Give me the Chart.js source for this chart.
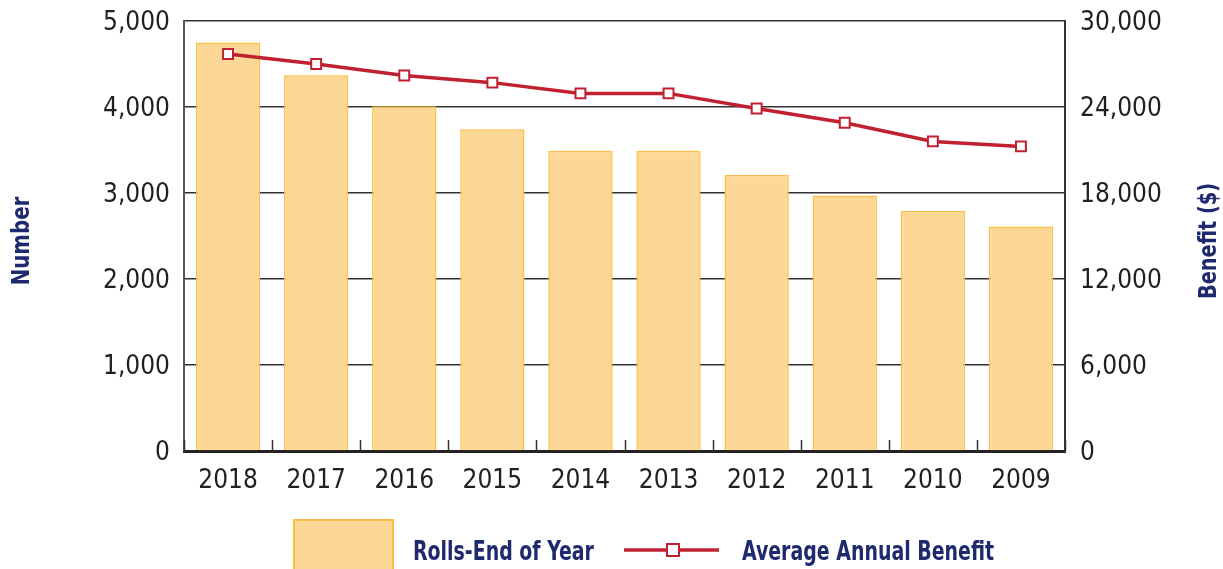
<!DOCTYPE html>
<html>
<head>
<meta charset="utf-8">
<script src="https://cdn.jsdelivr.net/npm/chart.js@4"></script>
<style>
  body { margin: 0; background: #fff; }
  #wrap { width: 1223px; height: 569px; }
</style>
</head>
<body>
<div id="wrap"><canvas id="chart" width="1223" height="569"></canvas></div>
<script>
const years = ['2018', '2017', '2016', '2015', '2014', '2013', '2012', '2011', '2010', '2009']
const rolls = [4750, 4370, 4010, 3740, 3490, 3490, 3210, 2970, 2790, 2610]
const avgBenefit = [27700, 27000, 26200, 25700, 24950, 24950, 23900, 22900, 21600, 21250]

const numberMax = 5000
const numberStep = 1000
const benefitMax = 30000
const benefitStep = 6000

const FONT = "'Liberation Sans Narrow', 'DejaVu Sans Condensed', 'Liberation Sans', sans-serif"
const navy = '#1f2a6e'
const ink = '#231f20'
const barFill = '#fdd795'
const barEdge = '#fbbf45'
const lineRed = '#c0202f'

// squeeze a bold label horizontally so it reads like a condensed face
function narrowText(ctx, text, x, y, squeeze, angle) {
  ctx.save()
  ctx.translate(x, y)
  if (angle) ctx.rotate(angle)
  ctx.scale(squeeze, 1)
  ctx.fillText(text, 0, 0)
  ctx.restore()
}

// titles, legend and the little upward ticks along the baseline
const extras = {
  id: 'extras',
  beforeDatasetsDraw(chart) {
    const { ctx, chartArea } = chart
    const x = chart.scales.x
    const step = x.width / years.length
    ctx.save()
    ctx.strokeStyle = '#333'
    ctx.lineWidth = 1.5
    for (let i = 0; i <= years.length; i++) {
      const px = Math.round(x.left + i * step) + 0.5
      ctx.beginPath()
      ctx.moveTo(px, chartArea.bottom - 11)
      ctx.lineTo(px, chartArea.bottom)
      ctx.stroke()
    }
    ctx.restore()
  },
  afterDraw(chart) {
    const { ctx } = chart
    ctx.save()
    ctx.fillStyle = navy
    ctx.font = `bold 25px ${FONT}`
    ctx.textAlign = 'center'
    ctx.textBaseline = 'middle'
    narrowText(ctx, 'Number', 22, 241, 0.88, -Math.PI / 2)
    narrowText(ctx, 'Benefit ($)', 1209, 241, 0.86, -Math.PI / 2)

    // legend
    const bar = chart.data.datasets[1]
    const line = chart.data.datasets[0]
    ctx.fillStyle = bar.backgroundColor
    ctx.strokeStyle = bar.borderColor
    ctx.lineWidth = 2
    ctx.fillRect(294, 520, 99, 60)
    ctx.strokeRect(294, 520, 99, 60)

    ctx.textAlign = 'left'
    ctx.fillStyle = navy
    ctx.font = `bold 27px ${FONT}`
    narrowText(ctx, 'Rolls-End of Year', 413, 553, 0.78)

    ctx.strokeStyle = line.borderColor
    ctx.lineWidth = 3.5
    ctx.beginPath()
    ctx.moveTo(624, 550)
    ctx.lineTo(719, 550)
    ctx.stroke()
    ctx.fillStyle = '#fff'
    ctx.lineWidth = 2
    ctx.fillRect(667, 544, 12, 12)
    ctx.strokeRect(667, 544, 12, 12)

    ctx.fillStyle = navy
    narrowText(ctx, 'Average Annual Benefit', 742, 553, 0.78)
    ctx.restore()
  }
}

// keep the plot box fixed; no extra room for half-height edge labels
const flatPad = s => {
  s.paddingTop = 0
  s.paddingBottom = 0
}

new Chart(document.getElementById('chart'), {
  data: {
    labels: years,
    datasets: [
      {
        type: 'line',
        label: 'Average Annual Benefit',
        data: avgBenefit,
        yAxisID: 'benefit',
        borderColor: lineRed,
        borderWidth: 3.5,
        pointStyle: 'rect',
        pointRadius: 7,
        pointBorderWidth: 2,
        pointBackgroundColor: '#fff',
        pointBorderColor: lineRed,
        tension: 0,
        order: 0
      },
      {
        type: 'bar',
        label: 'Rolls-End of Year',
        data: rolls,
        yAxisID: 'number',
        backgroundColor: barFill,
        borderColor: barEdge,
        borderWidth: 1.5,
        categoryPercentage: 1,
        barPercentage: 0.73,
        order: 1
      }
    ]
  },
  options: {
    responsive: false,
    animation: false,
    devicePixelRatio: 1,
    layout: { padding: { top: 21, left: 0, right: 0, bottom: 0 } },
    plugins: {
      legend: { display: false },
      tooltip: { enabled: false }
    },
    scales: {
      x: {
        offset: true,
        grid: { display: false },
        border: { color: '#222', width: 3 },
        ticks: { color: ink, font: { family: FONT, size: 26 }, padding: 7 },
        afterFit: s => {
          s.height = 118
          s.paddingLeft = 0
          s.paddingRight = 0
        }
      },
      number: {
        position: 'left',
        min: 0,
        max: numberMax,
        grid: { color: '#333', lineWidth: 1.5, drawTicks: false },
        border: { color: '#555', width: 2 },
        ticks: {
          stepSize: numberStep,
          color: ink,
          padding: 14,
          labelOffset: 2,
          font: { family: FONT, size: 26 },
          callback: v => v.toLocaleString('en-US')
        },
        afterFit: s => {
          s.width = 184
          flatPad(s)
        }
      },
      benefit: {
        position: 'right',
        min: 0,
        max: benefitMax,
        grid: { drawOnChartArea: false, drawTicks: false },
        border: { color: '#333', width: 2 },
        ticks: {
          stepSize: benefitStep,
          color: ink,
          padding: 15,
          labelOffset: 2,
          font: { family: FONT, size: 26 },
          callback: v => v.toLocaleString('en-US')
        },
        afterFit: s => {
          s.width = 158
          flatPad(s)
        }
      }
    }
  },
  plugins: [extras]
})
</script>
</body>
</html>
